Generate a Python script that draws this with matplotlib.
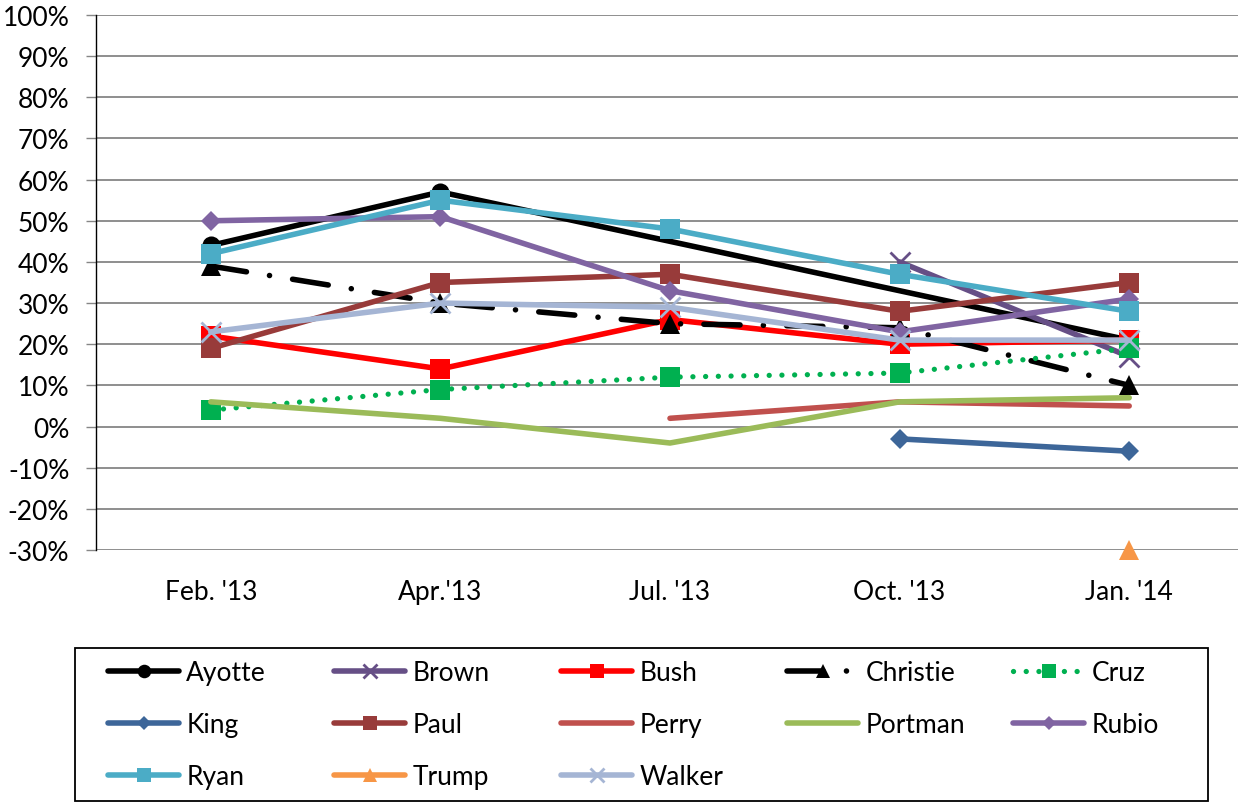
import numpy as np
import matplotlib
matplotlib.use("Agg")
import matplotlib.pyplot as plt
from matplotlib.patches import Rectangle

plt.rcParams['font.family'] = ['Lato', 'DejaVu Sans']
FS = 19

categories = ["Feb. '13", "Apr.'13", "Jul. '13", "Oct. '13", "Jan. '14"]
nan = np.nan
ayotte = [44, 57, nan, nan, 21]
brown = [nan, nan, nan, 40, 17]
bush = [22, 14, 26, 20, 21]
christie = [39, 30, 25, 24, 10]
cruz = [4, 9, 12, 13, 19]
king = [nan, nan, nan, -3, -6]
paul = [19, 35, 37, 28, 35]
perry = [nan, nan, 2, 6, 5]
portman = [6, 2, -4, 6, 7]
rubio = [50, 51, 33, 23, 31]
ryan = [42, 55, 48, 37, 28]
trump = [nan, nan, nan, nan, -30]
walker = [23, 30, 29, 21, 21]
y_ticks = list(range(-30, 101, 10))

series = [
    ("Ayotte", ayotte, dict(color="#000000", marker="o", ms=13, ls="-")),
    ("Brown", brown, dict(color="#664F86", marker="x", ms=14, mew=2, ls="-")),
    ("Bush", bush, dict(color="#FF0000", marker="s", ms=14, ls="-")),
    ("Christie", christie, dict(color="#000000", marker="^", ms=14, ls=(0, (6.5, 4.2, 0.01, 4.2)))),
    ("Cruz", cruz, dict(color="#00B050", marker="s", ms=14, ls=(0, (0.01, 2.4)))),
    ("King", king, dict(color="#3D6699", marker="D", ms=10, ls="-")),
    ("Paul", paul, dict(color="#983B3A", marker="s", ms=14, ls="-")),
    ("Perry", perry, dict(color="#C0504D", marker="None", ms=0, ls="-")),
    ("Portman", portman, dict(color="#9BBB59", marker="None", ms=0, ls="-")),
    ("Rubio", rubio, dict(color="#8064A2", marker="D", ms=10, ls="-")),
    ("Ryan", ryan, dict(color="#4BACC6", marker="s", ms=14, ls="-")),
    ("Trump", trump, dict(color="#F79646", marker="^", ms=14, ls="-")),
    ("Walker", walker, dict(color="#A5B5D4", marker="x", ms=14, mew=2, ls="-")),
]

W, H = 1238, 803
fig = plt.figure(figsize=(W / 100, H / 100), dpi=100)
ax = fig.add_axes([96 / W, 252 / H, 1148 / W, 535 / H])

handles = {}
for name, vals, st in series:
    v = np.array(vals, dtype=float)
    idx = np.where(~np.isnan(v))[0]
    lw = 3.8 if name == "Cruz" else 4.0
    mew = st.get("mew", 0)
    ln, = ax.plot(idx, v[idx], color=st["color"], lw=lw, ls=st["ls"],
                  marker=st["marker"], ms=st["ms"], mew=mew,
                  mec=st["color"], mfc=st["color"],
                  solid_capstyle="round", dash_capstyle="round",
                  clip_on=False, zorder=3)
    handles[name] = ln

ax.set_xlim(-0.5, 4.5)
ax.set_ylim(-30, 100)
ax.set_yticks(y_ticks)
ax.set_yticklabels([f"{t}%" for t in y_ticks], fontsize=FS)
ax.set_xticks(range(len(categories)))
ax.set_xticklabels(categories, fontsize=FS)
ax.tick_params(axis="x", length=0, pad=21)
ax.tick_params(axis="y", direction="out", length=7.2, width=1, color="#868686", pad=12)
ax.grid(axis="y", color="#868686", lw=1.3, zorder=0)
ax.set_axisbelow(True)
for s in ["top", "right", "bottom"]:
    ax.spines[s].set_visible(False)
ax.spines["left"].set_color("black")
ax.spines["left"].set_linewidth(1)

# legend frame
fig.patches.append(Rectangle((75 / W, 1 / H), (1208 - 75) / W, (802 - 649) / H,
                             transform=fig.transFigure, fill=False,
                             edgecolor="black", lw=1.3))

columns = [["Ayotte", "King", "Ryan"], ["Brown", "Paul", "Trump"],
           ["Bush", "Perry", "Walker"], ["Christie", "Portman"], ["Cruz", "Rubio"]]
col_x = [108, 334, 561, 787, 1013]
for names, cx in zip(columns, col_x):
    fig.legend([handles[n] for n in names], names, loc="upper left",
               bbox_to_anchor=(cx / W, (H - 661) / H),
               frameon=False, borderpad=0, borderaxespad=0,
               handlelength=2.7, handletextpad=0.27, labelspacing=1.03,
               markerscale=0.75, fontsize=FS)

fig.savefig("out.png", dpi=100)
